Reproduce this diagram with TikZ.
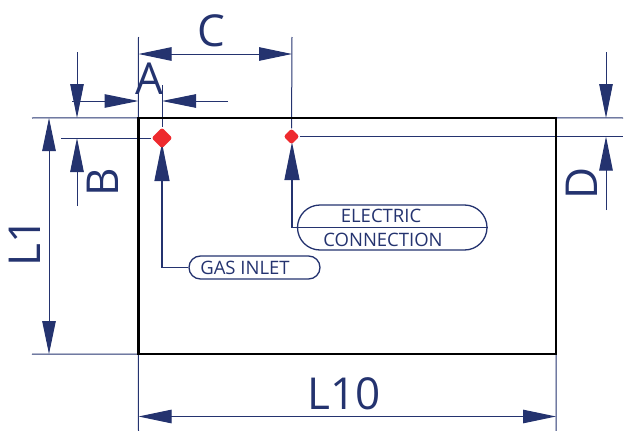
\documentclass[tikz,border=0pt]{standalone}
\usepackage{fontspec}
\setmainfont{Open Sans}
\usepackage{tikz}
\usetikzlibrary{calc}
\usetikzlibrary{arrows.meta}
\usetikzlibrary{shapes.geometric}
\usetikzlibrary{shapes.misc}
\definecolor{dimblue}{HTML}{24336F}
\definecolor{portred}{HTML}{EE2A2E}
\tikzset{
dimline/.style={draw=dimblue,line width=1pt},
tipline/.style={dimline,-{Triangle[length=34pt,width=13.5pt]}},
bothline/.style={dimline,{Triangle[length=33pt,width=13.5pt]}-{Triangle[length=33pt,width=13.5pt]}},
riseline/.style={dimline,line width=1.3pt,-{Triangle[length=38pt,width=15pt]}},
bigtext/.style={text=dimblue,inner sep=0pt,font=\fontsize{44}{44}\selectfont},
smalltext/.style={text=dimblue,inner sep=0pt,font=\fontsize{18.5}{20}\selectfont},
pill/.style={rounded rectangle,draw=dimblue,line width=1.3pt,inner sep=0pt},
port/.style={diamond,fill=portred,rounded corners=2.5pt,inner sep=0pt}
}
\begin{document}
\begin{tikzpicture}[x=1pt,y=-1pt]
\useasboundingbox (0,0) rectangle (624,431);
\node (box) at (347.25,236) [minimum width=417.5pt, minimum height=236pt, inner sep=0pt] {};
\coordinate (nw) at (box.north west);
\coordinate (ne) at (box.north east);
\coordinate (sw) at (box.south west);
\coordinate (se) at (box.south east);

% leaders with big arrows
\node (gaspill) at (254.5,267.5) [pill, minimum width=131pt, minimum height=23pt] {};
\node (elecpill) at (392.25,227.5) [pill, minimum width=189.5pt, minimum height=45pt] {};
\coordinate (gastip) at (162,143);
\coordinate (electip) at (292,142);
\coordinate (gascorner) at (gastip |- gaspill.west);
\coordinate (eleccorner) at (electip |- elecpill.west);
\draw[riseline] (gaspill.west) -- (gascorner) -- (gastip);
\draw[riseline] (elecpill.west) -- (eleccorner) -- (electip);
\draw[dimline] (elecpill.west) -- (elecpill.east);

% extension lines
\node (gasport) at (162,138) [port, minimum width=21pt, minimum height=21pt] {};
\node (elecport) at (291.5,136.5) [port, minimum width=16pt, minimum height=16pt] {};
\coordinate (ctop) at (138.5,37);
\coordinate (etop) at (292,37);
\coordinate (atop) at (162,85);
\coordinate (topleft) at (32,118);
\coordinate (botleft) at (32,354);
\coordinate (bleft) at (61,138);
\coordinate (topright) at (623,118);
\coordinate (dright) at (623,136.5);
\coordinate (lbotl) at (138.5,431);
\coordinate (lbotr) at (556,431);
\draw[dimline] (ctop) -- (nw);
\draw[dimline] (topleft) -- (nw);
\draw[dimline] (botleft) -- (sw);
\draw[dimline] (bleft) -- (gasport);
\draw[dimline] (ne) -- (topright);
\draw[dimline] (elecport) -- (dright);
\draw[dimline] (sw) -- (lbotl);
\draw[dimline] (se) -- (lbotr);
\draw[dimline] (atop) -- (gasport);
\draw[dimline] (etop) -- (elecport);

% dimension arrows
\coordinate (cl) at (138.5,54);
\coordinate (cr) at (292,54);
\draw[bothline] (cl) -- (cr);
\coordinate (astart) at (72,101);
\coordinate (aend) at (138.5,101);
\coordinate (astart2) at (228,101);
\coordinate (aend2) at (162,101);
\draw[tipline] (astart) -- (aend);
\draw[tipline] (astart2) -- (aend2);
\coordinate (bstart) at (77,52);
\coordinate (bend) at (77,118);
\coordinate (bstart2) at (77,206);
\coordinate (bend2) at (77,138);
\draw[tipline] (bstart) -- (bend);
\draw[tipline] (bstart2) -- (bend2);
\coordinate (dstart) at (606,52);
\coordinate (dend) at (606,118);
\coordinate (dstart2) at (606,210);
\coordinate (dend2) at (606,136.5);
\draw[tipline] (dstart) -- (dend);
\draw[tipline] (dstart2) -- (dend2);
\coordinate (ltop) at (49,118);
\coordinate (lbot) at (49,354);
\draw[bothline] (ltop) -- (lbot);
\coordinate (wl) at (138.5,416.5);
\coordinate (wr) at (556,416.5);
\draw[bothline] (wl) -- (wr);

\draw[draw=black,line width=2.5pt] (nw) rectangle (se);

% labels
\node (lc) at (211,31) [bigtext] {C};
\node (la) at (149,79) [bigtext] {A};
\node (lb) at (103,182) [bigtext, rotate=90] {B};
\node (ld) at (582,183) [bigtext, rotate=90] {D};
\node (lone) at (25,242) [bigtext, rotate=90] {L1};
\node (lten) at (344,394) [bigtext] {L10};
\node (gastext) at (245,268) [smalltext] {GAS INLET};
\node (electext) at (381,216) [smalltext] {ELECTRIC};
\node (conntext) at (383,240) [smalltext] {CONNECTION};
\end{tikzpicture}
\end{document}
